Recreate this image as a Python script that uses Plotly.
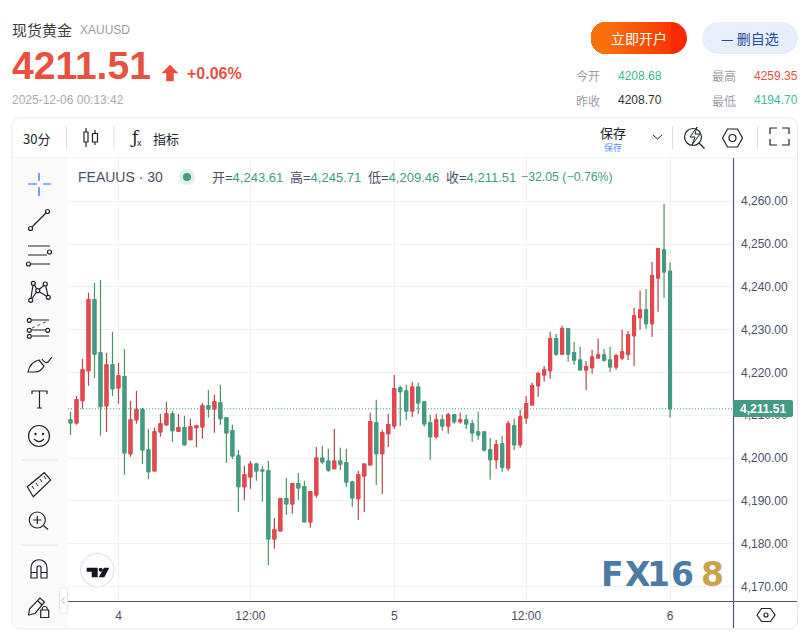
import plotly.graph_objects as go

# candles, oldest first
opens = [4208.9, 4208.2, 4213.4, 4220.4, 4237.0, 4224.6, 4212.2, 4221.8, 4216.4, 4219.0,
         4201.0, 4208.9, 4211.3, 4201.9, 4197.0, 4206.1, 4207.8, 4210.3, 4206.3, 4207.1,
         4204.3, 4207.1, 4207.3, 4212.2, 4211.5, 4212.9, 4209.4, 4206.4, 4200.5, 4193.3,
         4195.6, 4198.6, 4197.2, 4197.0, 4181.1, 4183.0, 4190.5, 4189.3, 4194.0, 4193.3,
         4185.1, 4191.4, 4200.0, 4199.3, 4197.5, 4199.3, 4198.9, 4194.4, 4190.5, 4195.8,
         4198.4, 4208.2, 4201.0, 4205.7, 4207.5, 4216.4, 4215.7, 4211.0, 4216.6, 4213.1,
         4208.2, 4205.0, 4208.9, 4207.5, 4210.1, 4208.5, 4208.9, 4208.0, 4206.1, 4206.1,
         4201.9, 4199.6, 4203.3, 4197.7, 4207.5, 4203.1, 4209.4, 4212.4, 4216.9, 4219.4,
         4220.4, 4227.9, 4224.3, 4230.2, 4224.6, 4222.9, 4220.6, 4221.1, 4223.4, 4224.1,
         4222.9, 4221.3, 4223.4, 4224.3, 4228.6, 4232.8, 4234.6, 4231.4, 4242.1, 4248.6,
         4243.61]
closes = [4208.2, 4213.6, 4220.6, 4237.0, 4224.3, 4212.0, 4221.8, 4216.2, 4219.2, 4201.2,
          4208.9, 4211.3, 4201.9, 4196.8, 4206.1, 4208.0, 4210.3, 4206.4, 4207.1, 4203.1,
          4207.3, 4207.5, 4212.2, 4211.5, 4213.1, 4209.2, 4205.9, 4200.5, 4193.3, 4196.1,
          4198.6, 4197.0, 4197.0, 4181.1, 4183.2, 4190.5, 4189.3, 4194.0, 4193.0, 4185.1,
          4192.1, 4200.0, 4199.1, 4197.2, 4199.3, 4198.6, 4194.4, 4190.7, 4196.1, 4198.6,
          4208.5, 4201.0, 4205.9, 4207.8, 4216.2, 4215.5, 4211.0, 4216.6, 4212.9, 4208.0,
          4205.0, 4208.9, 4207.5, 4210.1, 4208.5, 4208.9, 4208.0, 4205.9, 4205.4, 4201.9,
          4199.6, 4203.1, 4197.9, 4208.0, 4203.1, 4209.6, 4212.7, 4216.9, 4219.7, 4220.6,
          4227.9, 4224.3, 4230.2, 4224.3, 4222.9, 4220.6, 4221.3, 4223.6, 4224.1, 4222.9,
          4221.3, 4223.9, 4224.8, 4228.8, 4233.2, 4234.6, 4231.4, 4242.6, 4248.9, 4243.5,
          4211.51]
highs = [4210.8, 4214.5, 4223.2, 4238.6, 4240.9, 4241.6, 4224.6, 4229.5, 4222.2, 4225.5,
         4213.4, 4215.7, 4211.7, 4206.8, 4207.1, 4210.3, 4213.1, 4211.0, 4210.3, 4209.9,
         4209.2, 4207.8, 4212.9, 4215.9, 4214.8, 4217.1, 4209.4, 4207.8, 4201.9, 4198.2,
         4199.3, 4198.9, 4198.2, 4199.3, 4186.0, 4190.5, 4195.4, 4194.2, 4196.5, 4194.7,
         4192.3, 4202.6, 4202.9, 4202.2, 4206.8, 4202.4, 4202.2, 4194.7, 4197.0, 4198.6,
         4210.6, 4213.6, 4206.6, 4210.3, 4219.4, 4216.9, 4217.1, 4217.8, 4217.6, 4213.1,
         4210.1, 4210.3, 4210.1, 4210.6, 4210.3, 4210.6, 4210.1, 4208.9, 4210.8, 4206.1,
         4204.7, 4204.3, 4205.2, 4208.7, 4209.2, 4211.3, 4214.5, 4217.6, 4220.1, 4221.5,
         4229.5, 4229.0, 4230.9, 4230.4, 4227.1, 4226.0, 4222.7, 4225.3, 4227.9, 4225.5,
         4226.0, 4224.3, 4230.0, 4229.7, 4235.1, 4239.1, 4239.5, 4245.8, 4249.1, 4259.4,
         4245.71]
lows = [4205.4, 4207.8, 4211.5, 4216.9, 4218.7, 4205.2, 4206.1, 4214.5, 4212.7, 4196.1,
        4200.3, 4208.0, 4198.6, 4195.1, 4197.0, 4205.0, 4207.5, 4203.8, 4206.1, 4202.9,
        4204.3, 4202.6, 4204.5, 4209.4, 4205.9, 4207.8, 4198.9, 4199.8, 4187.4, 4190.2,
        4192.8, 4194.7, 4189.8, 4175.0, 4178.8, 4182.8, 4186.7, 4187.0, 4190.2, 4185.1,
        4183.7, 4190.7, 4198.6, 4196.8, 4197.5, 4197.2, 4193.3, 4188.6, 4185.6, 4187.4,
        4198.4, 4193.7, 4191.6, 4202.6, 4206.8, 4207.5, 4208.9, 4209.6, 4210.3, 4207.3,
        4199.6, 4204.5, 4206.4, 4205.7, 4208.0, 4208.0, 4206.8, 4203.8, 4204.3, 4201.5,
        4194.9, 4197.5, 4196.8, 4197.0, 4201.9, 4202.4, 4208.0, 4212.4, 4214.3, 4217.8,
        4218.5, 4223.9, 4224.3, 4222.5, 4221.8, 4220.6, 4215.9, 4219.7, 4223.4, 4222.5,
        4220.1, 4220.6, 4222.9, 4222.9, 4221.5, 4230.0, 4230.2, 4228.3, 4234.2, 4237.4,
        4209.46]
candle_idx = list(range(len(closes)))

y_ticks = [4170, 4180, 4190, 4200, 4210, 4220, 4230, 4240, 4250, 4260]
x_tick_idx = [8, 30, 54, 76, 100]
x_tick_text = ["4", "12:00", "5", "12:00", "6"]

UP = "#e5484d"
UP_WICK = "#b8454f"
DOWN = "#439a85"
DOWN_WICK = "#4a9462"
INK = "#20232d"
AXIS = "#4f5773"
LABEL = "#4a5068"
GRID = "#f1f1f4"
HEAD_RED = "#e8503f"
HEAD_GREEN = "#3fb89a"
CJK = "Noto Sans CJK SC"
SANS = "Liberation Sans"

W, H = 812, 632
fig = go.Figure()

# wicks first, then bodies on top so the body edge keeps the fill colour
fig.add_trace(go.Candlestick(
    x=candle_idx, open=opens, high=highs, low=lows, close=closes, hoverinfo="skip", showlegend=False,
    increasing=dict(line=dict(color=UP_WICK, width=1.2), fillcolor=UP),
    decreasing=dict(line=dict(color=DOWN_WICK, width=1.2), fillcolor=DOWN),
))
fig.add_trace(go.Candlestick(
    x=candle_idx, open=opens, close=closes, hoverinfo="skip", showlegend=False,
    high=[max(o, c) for o, c in zip(opens, closes)],
    low=[min(o, c) for o, c in zip(opens, closes)],
    increasing=dict(line=dict(color=UP, width=1), fillcolor=UP),
    decreasing=dict(line=dict(color=DOWN, width=1), fillcolor=DOWN),
))
# empty trace that keeps the page-pixel axes alive
fig.add_trace(go.Scatter(x=[0], y=[0], xaxis="x2", yaxis="y2", mode="none", hoverinfo="skip", showlegend=False))


def text(x, y, s, size=12, color=INK, anchor="left", family=CJK, bold=False):
    fig.add_annotation(xref="x2", yref="y2", x=x, y=y, text=f"<b>{s}</b>" if bold else s, showarrow=False,
                       xanchor=anchor, yanchor="middle", borderpad=0, borderwidth=0,
                       font=dict(size=size, color=color, family=family))


def path(d, color=INK, width=1.2, fill=None, dash=None):
    fig.add_shape(type="path", xref="x2", yref="y2", path=d, fillcolor=fill or "rgba(0,0,0,0)",
                  line=dict(color=color, width=width, dash=dash), layer="above")


def circle(cx, cy, r, color=INK, width=1.2, fill=None):
    fig.add_shape(type="circle", xref="x2", yref="y2", x0=cx - r, x1=cx + r, y0=cy - r, y1=cy + r,
                  fillcolor=fill or "rgba(0,0,0,0)", line=dict(color=color, width=width), layer="above")


def rrect(x0, y0, x1, y1, r):
    k = r * 0.45  # control offset from the corner, close to a true circle
    return (f"M{x0 + r},{y0} L{x1 - r},{y0} C{x1 - k},{y0} {x1},{y0 + k} {x1},{y0 + r} L{x1},{y1 - r} "
            f"C{x1},{y1 - k} {x1 - k},{y1} {x1 - r},{y1} L{x0 + r},{y1} C{x0 + k},{y1} {x0},{y1 - k} {x0},{y1 - r} "
            f"L{x0},{y0 + r} C{x0},{y0 + k} {x0 + k},{y0} {x0 + r},{y0} Z")


# header
text(12, 29, "现货黄金", 15, "#3a3a3a")
text(80, 30, "XAUUSD", 12, "#9c9ca6", family=SANS)
text(12, 65, "4211.51", 39, HEAD_RED, family=SANS, bold=True)
path("M170,65 L178,73 L173.5,73 L173.5,81 L166.5,81 L166.5,73 L162,73 Z", HEAD_RED, 0.5, HEAD_RED)
text(187, 73, "+0.06%", 16, HEAD_RED, family=SANS, bold=True)
text(12, 100, "2025-12-06 00:13:42", 12, "#a9a9b0", family=SANS)

# open account button: orange to red, painted right to left, each piece keeps the round left end
path(rrect(591, 22, 687, 54, 16), "#f92a00", 0, "#f92a00")
steps = 32
for i in range(steps, -1, -1):
    right = 607 + 64 * i / steps
    share = (right - 591) / 96
    c = f"#f9{int(0x80 - (0x80 - 0x2a) * share):02x}{int(0x10 * (1 - share)):02x}"
    path(f"M607,22 L{right},22 L{right},54 L607,54 C598,54 591,47 591,38 C591,29 598,22 607,22 Z", c, 0, c)
text(638.5, 38, "立即开户", 14, "#ffffff", "center")
path(rrect(702, 22, 798, 54, 16), "#e8effc", 0, "#e8effc")
text(750, 38, "— 删自选", 14, "#1f4e9e", "center")

text(576, 75.5, "今开", 12, "#9c9ca6")
text(618, 75.5, "4208.68", 12, HEAD_GREEN, family=SANS)
text(711.5, 75.5, "最高", 12, "#9c9ca6")
text(753.5, 75.5, "4259.35", 12, HEAD_RED, family=SANS)
text(576, 100, "昨收", 12, "#9c9ca6")
text(618, 100, "4208.70", 12, "#333333", family=SANS)
text(711.5, 100, "最低", 12, "#9c9ca6")
text(753.5, 100, "4194.70", 12, HEAD_GREEN, family=SANS)

# chart frame and side panel
path(rrect(12, 118, 797.5, 629, 8), "#e9e9ee", 1)
path("M13.5,158 L68,158 L68,628 L13.5,628 Z", "#fafafb", 0, "#fafafb")
path("M13,157.5 L797,157.5", "#f3f3f6", 1)

# top toolbar
text(23, 138, "30分", 13)
for sep_x in [66.5, 114, 672.5, 757.5]:
    path(f"M{sep_x},126 L{sep_x},149", "#dfdfe8", 1)
path("M86,128 L86,147 M95,130 L95,145")
path("M84,132 L88,132 L88,142 L84,142 Z M92.5,133.5 L97.5,133.5 L97.5,142 L92.5,142 Z", INK, 1.2, "#ffffff")
text(130, 137, "ƒ", 17, INK, family="DejaVu Serif")
text(137, 143, "x", 9, INK, family=SANS)
text(153, 138, "指标", 13)
text(613, 132.5, "保存", 13, INK, "center")
text(613, 147, "保存", 9, "#5b8cf5", "center")
path("M653,135 L657.5,139 L662,135", INK, 1)
circle(693, 137, 8.5)
path("M699,143 L704.5,148.5")
path("M697,127 L690,137 L695,137 L692,145 L700,134 L695,134 Z", INK, 1, "#ffffff")
path("M722.5,138 L727.5,129 L737.5,129 L742.5,138 L737.5,147 L727.5,147 Z")
circle(732.5, 138, 3.5)
path("M770,134 L770,128 L777,128 M782,128 L789,128 L789,134 M789,139 L789,145 L782,145 M777,145 L770,145 L770,139")

# legend row
text(78, 177, "FEAUUS · 30", 14, LABEL, family=SANS)
circle(187, 177, 8, "#dff1ec", 0, "#dff1ec")
circle(187, 177, 4, DOWN, 0, DOWN)
for lx, name, val in [(211, "开", opens[-1]), (289, "高", highs[-1]), (367, "低", lows[-1]), (445, "收", closes[-1])]:
    fig.add_annotation(xref="x2", yref="y2", x=lx, y=177, showarrow=False, xanchor="left", yanchor="middle", borderpad=0,
                       text=f"{name}=<span style='color:{DOWN}'>{val:,.2f}</span>",
                       font=dict(size=13, color=LABEL, family=f"{SANS}, {CJK}"))
text(521, 177, "−32.05 (−0.76%)", 12.3, DOWN, family=SANS)

# drawing tools
path("M28,184 L37,184 M43,184 L51,184 M39,173 L39,181 M39,187 L39,196", "#2962ff", 1.2)
path("M32,227 L46,213")
circle(30.5, 228.5, 2)
circle(47.5, 211.5, 2)
path("M28,246 L50,246 M28,255 L47,255 M31,264 L50,264")
circle(49.5, 252, 2, fill="#fafafb")
circle(28.5, 264, 2, fill="#fafafb")
path("M30.7,300 L33.3,283 L37.7,290.7 L45.3,284 L48.3,297.3 L37.7,290.7 L30.7,300")
for cx, cy in [(33.3, 283.3), (45.3, 284), (37.7, 290.7), (30.7, 300.3), (48.3, 297.3)]:
    circle(cx, cy, 2, fill="#fafafb")
path("M32,320 L49,320 M32,330 L45,330 M32,336 L49,336")
path("M32,328 L48,321", INK, 0.8, dash="dot")
for cx, cy in [(29.3, 320.3), (29.3, 330.3), (47.7, 330.3), (29.3, 336.3)]:
    circle(cx, cy, 2, fill="#fafafb")
path("M28,372 Q30,362 39,360 L44,366 Q41,372 35,372 Z M42,359 Q45,364 48,362 L52,357")
path("M32,394 L32,391 L47,391 L47,394 M39.5,391 L39.5,408 M37,408 L42,408")
circle(39, 436, 10.5)
path("M34,439 Q39,444 44,439")
circle(35.5, 434, 0.6)
circle(43, 434, 0.6)
path("M21,460 L57,460 M21,545 L57,545", "#e2e2ec", 1)
path("M27.3,486.7 L33.3,496.7 L50.7,480 L44.3,472.7 Z")
path("M32,486 L34,489 M36,483 L38,486 M40,479 L42,482 M44,476 L46,479", INK, 1)
circle(37.3, 520, 8)
path("M43.5,525.5 L48,529.5 M33,520 L41.5,520 M37.3,516 L37.3,524")
path("M31,578 L31,568 C31,557 47,557 47,568 L47,578 L41,578 L41,568 C41,565 37,565 37,568 L37,578 Z M31,572.5 L37,572.5 M41,572.5 L47,572.5")
path("M28.5,615 L29.5,609 L40,598 L44.5,602 L35,613.5 Z M37.5,600.5 L42,605")
path("M40.7,610 L48.7,610 L48.7,617.5 L40.7,617.5 Z M42.3,610 L42.3,608 Q44.7,604.5 47.1,608 L47.1,610", INK, 1.2, "#fafafb")
path(rrect(59.5, 588, 67.5, 613, 3), "#e4e4ee", 1, "#ffffff")
path("M64.5,597 L62,600.5 L64.5,604", "#b9b9c6", 1)

# tradingview badge
circle(97.3, 570, 16.7, "#e6e6ee", 1.3, "#ffffff")
path("M86.7,567.7 L97.7,567.7 L97.7,577.3 L91.7,577.3 L91.7,571.7 L86.7,571.7 Z M104,567.7 L109.3,567.7 L104.3,577.3 L98.7,577.3 Z",
     "#131722", 0, "#131722")
circle(100.7, 569.7, 2, "#131722", 0, "#131722")

# axis borders and current price
path("M733.5,158 L733.5,628", AXIS, 1.2)
path("M68,601.5 L797,601.5", AXIS, 1.2)
fig.add_shape(type="line", xref="x", yref="y", x0=-0.42, x1=110.5, y0=closes[-1], y1=closes[-1],
              line=dict(color=DOWN, width=1, dash="1px,2px"), layer="above")
path(rrect(733, 400, 793, 417, 2), DOWN, 0, DOWN)
fig.add_annotation(xref="x2", yref="y", x=763, y=closes[-1], text=f"<b>{closes[-1]:,.2f}</b>", showarrow=False,
                   xanchor="center", yanchor="middle", font=dict(size=12, color="#ffffff", family=SANS))
path("M757,615 L761.5,608.5 L770.5,608.5 L775,615 L770.5,621.5 L761.5,621.5 Z")
circle(766, 615, 2)

# watermark, one annotation per glyph to get the wide spacing
for gx, glyph, col in [(612, "F", "#4a7ca3"), (637, "X", "#4a7ca3"), (658, "1", "#4a7ca3"),
                       (682, "6", "#4a7ca3"), (712, "8", "#c9a24f")]:
    text(gx, 574, glyph, 33, col, "center", "DejaVu Sans", bold=True)

fig.update_layout(
    width=W, height=H, autosize=False, margin=dict(l=0, r=0, t=0, b=0), showlegend=False,
    paper_bgcolor="#ffffff", plot_bgcolor="rgba(0,0,0,0)",
    xaxis=dict(domain=[68 / W, 733 / W], range=[-0.42, 110.5], rangeslider=dict(visible=False), fixedrange=True,
               tickmode="array", tickvals=x_tick_idx, ticktext=x_tick_text, showgrid=True, gridcolor=GRID,
               gridwidth=1, zeroline=False, ticks="", ticklabelstandoff=6,
               tickfont=dict(size=12, color=LABEL, family=SANS)),
    yaxis=dict(domain=[1 - 601 / H, 1 - 158 / H], range=[4166.6, 4270.1], side="right", fixedrange=True,
               tickmode="array", tickvals=y_ticks, tickformat=",.2f", showgrid=True, gridcolor=GRID,
               gridwidth=1, zeroline=False, ticks="", ticklabelstandoff=7,
               tickfont=dict(size=12, color=LABEL, family=SANS)),
    xaxis2=dict(domain=[0, 1], range=[0, W], visible=False, fixedrange=True, anchor="y2"),
    yaxis2=dict(domain=[0, 1], range=[H, 0], visible=False, fixedrange=True, anchor="x2"),
)

fig.write_html("out.html", config=dict(displayModeBar=False), post_script="document.body.style.margin='0';")
